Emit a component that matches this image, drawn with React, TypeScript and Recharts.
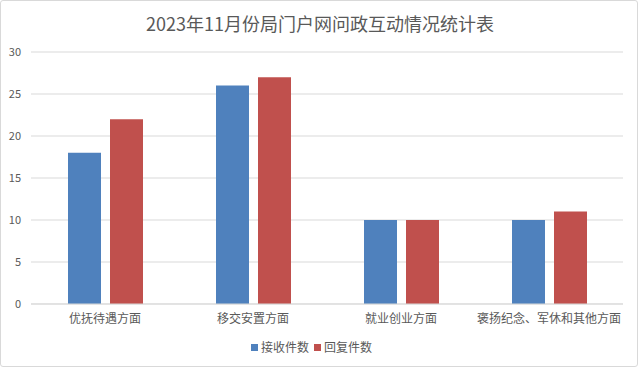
import React from "react";
import { BarChart, Bar, XAxis, YAxis, CartesianGrid, Legend } from "recharts";

const categories = ["优抚待遇方面", "移交安置方面", "就业创业方面", "褒扬纪念、军休和其他方面"];
const received = [18, 26, 10, 10];
const replied = [22, 27, 10, 11];
const yTicks = [0, 5, 10, 15, 20, 25, 30];
const title = "2023年11月份局门户网问政互动情况统计表";
const seriesNames = ["接收件数", "回复件数"];
const seriesColors = ["#4f81bd", "#c0504d"];

const data = categories.map((c, i) => ({ name: c, received: received[i], replied: replied[i] }));

const FONT = '"Noto Sans CJK SC", "Noto Sans", sans-serif';

const LegendContent = () => (
  <div style={{ display: "flex", justifyContent: "center", alignItems: "center", fontSize: 12, color: "#595959", fontFamily: FONT, lineHeight: "16px" }}>
    {seriesNames.map((n, i) => (
      <div key={n} style={{ display: "flex", alignItems: "center", marginLeft: i ? 5 : 0 }}>
        <span style={{ width: 7, height: 7, background: seriesColors[i], display: "inline-block", marginRight: 3 }} />
        <span>{n}</span>
      </div>
    ))}
  </div>
);

export default function App() {
  return (
    <div
      style={{
        position: "absolute",
        left: 0,
        top: 0,
        width: 638,
        height: 367,
        boxSizing: "border-box",
        border: "1px solid #d9d9d9",
        borderRadius: 3,
        background: "#fff",
        fontFamily: FONT,
      }}
    >
      <div
        style={{
          position: "absolute",
          left: 0,
          top: 10,
          width: 638,
          textAlign: "center",
          fontSize: 18,
          color: "#595959",
          lineHeight: "24px",
        }}
      >
        {title}
      </div>
      <div style={{ position: "absolute", left: -1, top: -1 }}>
        <BarChart
          width={638}
          height={367}
          data={data}
          margin={{ top: 52, right: 15, left: 0, bottom: 17 }}
          barGap={9}
          barCategoryGap={37}
        >
          <CartesianGrid vertical={false} stroke="#d9d9d9" />
          <XAxis
            dataKey="name"
            axisLine={{ stroke: "#d9d9d9" }}
            tickLine={false}
            tick={{ fill: "#595959", fontSize: 12, fontFamily: FONT }}
            tickMargin={4}
            interval={0}
          />
          <YAxis
            width={31}
            domain={[0, 30]}
            ticks={yTicks}
            axisLine={false}
            tickLine={false}
            tick={{ fill: "#595959", fontSize: 11, fontFamily: FONT }}
            tickMargin={4}
          />
          <Legend
            verticalAlign="bottom"
            align="center"
            content={<LegendContent />}
            wrapperStyle={{ bottom: 12 }}
          />
          <Bar dataKey="received" name={seriesNames[0]} fill={seriesColors[0]} isAnimationActive={false} />
          <Bar dataKey="replied" name={seriesNames[1]} fill={seriesColors[1]} isAnimationActive={false} />
        </BarChart>
      </div>
    </div>
  );
}
